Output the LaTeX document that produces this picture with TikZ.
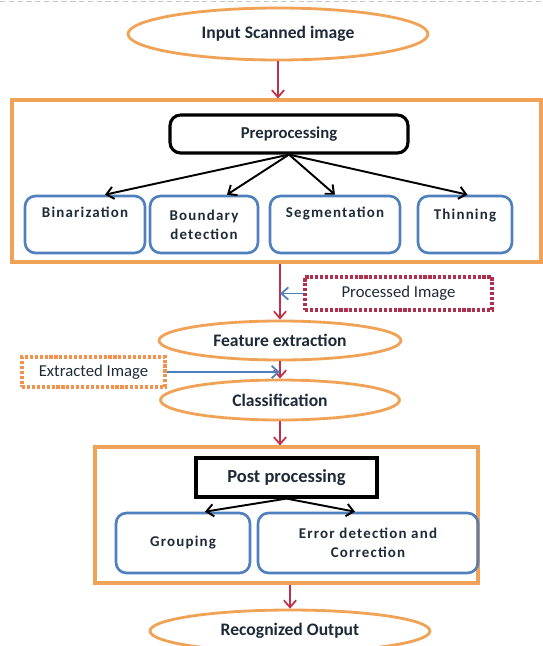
\documentclass[tikz,border=0pt]{standalone}
\usepackage{fontspec}
\setmainfont{Carlito}
\usetikzlibrary{shapes.geometric, arrows.meta}

\definecolor{boxorange}{HTML}{F0A256}
\definecolor{flowred}{HTML}{C0304A}
\definecolor{boxblue}{HTML}{4F7FBD}
\definecolor{notered}{HTML}{B0304E}
\definecolor{inkdark}{HTML}{1F2A38}

\begin{document}
\begin{tikzpicture}[x=0.02cm, y=-0.02cm,
    every node/.style={font=\bfseries\fontsize{10}{12}\selectfont, text=inkdark},
    stage/.style={ellipse, draw=boxorange, line width=1.6pt, fill=white, inner sep=0pt},
    frame/.style={draw=boxorange, line width=1.8pt, inner sep=0pt},
    headbox/.style={draw=black, line width=1.8pt, inner sep=0pt},
    subbox/.style={draw=boxblue, line width=1.5pt, rounded corners=6pt, align=center,
        inner sep=0pt, font=\bfseries\fontsize{8.5}{11}\selectfont\addfontfeature{LetterSpace=8}},
    note/.style={densely dotted, line width=1.8pt, inner sep=0pt,
        font=\fontsize{9.5}{11}\selectfont},
    flow/.style={draw=flowred, line width=1pt, -{Straight Barb[length=4pt,width=7pt]}},
    feed/.style={draw=boxblue, line width=1pt, -{Straight Barb[length=4pt,width=7pt]}},
    split/.style={draw=black, line width=1.1pt, -{Straight Barb[length=4pt,width=7pt]}}]

    \useasboundingbox (0,0) rectangle (543,646);
    \clip (0,0) rectangle (543,646);
    \draw[gray!45, densely dashed] (0,1) -- (543,1);

    % main stages
    \node[stage, minimum width=6cm, minimum height=1.04cm] (input) at (278,34) {Input Scanned image};
    \node[frame, minimum width=10.58cm, minimum height=3.24cm] (preframe) at (276.5,181) {};
    \node[headbox, rounded corners=6pt, minimum width=4.76cm, minimum height=0.76cm] (pre) at (289,134)
        {\fontsize{9.5}{11}\selectfont Preprocessing};

    \node[subbox, minimum width=2.4cm, minimum height=1.14cm, text height=1.6ex, text depth=0.56cm] (bin) at (85,224.5) {Binarization};
    \node[subbox, minimum width=2.16cm, minimum height=1.14cm] (bound) at (204,224.5) {Boundary\\detection};
    \node[subbox, minimum width=2.6cm, minimum height=1.14cm, text height=1.6ex, text depth=0.56cm] (seg) at (335,224.5) {Segmentation};
    \node[subbox, minimum width=1.88cm, minimum height=1.14cm, text height=1.6ex, text depth=0.48cm] (thin) at (465,224.5) {Thinning};

    \draw[split] (pre.south) -- ([xshift=0.4cm]bin.north);
    \draw[split] (pre.south) -- ([xshift=0.46cm]bound.north);
    \draw[split] (pre.south) -- (seg.north);
    \draw[split] (pre.south) -- ([xshift=0.05cm]thin.north);

    \node[stage, minimum width=4.84cm, minimum height=0.78cm] (feat) at (280,340.5) {Feature extraction};
    \node[stage, minimum width=4.78cm, minimum height=0.8cm] (cls) at (280,400) {Classification};

    \node[note, draw=notered, minimum width=3.74cm, minimum height=0.66cm] (procnote) at (398.5,293.5) {Processed Image};
    \node[note, draw=boxorange!90!red, minimum width=2.86cm, minimum height=0.6cm] (extnote) at (93.5,372) {Extracted Image};

    \node[frame, minimum width=7.66cm, minimum height=2.72cm] (postframe) at (286.5,515) {};
    \node[headbox, minimum width=3.62cm, minimum height=0.78cm] (post) at (286.5,477.5) {\fontsize{10.5}{12}\selectfont Post processing};
    \node[subbox, minimum width=2.68cm, minimum height=1.2cm] (group) at (183,543) {Grouping};
    \node[subbox, minimum width=4.4cm, minimum height=1.2cm] (errcorr) at (368,543) {Error detection and\\Correction};

    \draw[split] (post.south) -- ([xshift=0.44cm]group.north);
    \draw[split] (post.south) -- ([xshift=-0.26cm]errcorr.north);

    \node[stage, minimum width=5.6cm, minimum height=0.84cm] (output) at (290,631) {Recognized Output};

    % flow between stages
    \draw[flow] (input.south) -- (input.south |- preframe.north);
    \draw[flow] (preframe.south -| feat.north) -- (feat.north);
    \draw[flow] (feat.south) -- (cls.north);
    \draw[flow] (cls.south) -- (cls.south |- postframe.north);
    \draw[flow] (postframe.south -| output.north) -- (output.north);

    \draw[feed] (procnote.west) -- (procnote.west -| feat.north);
    \draw[feed] (extnote.east) -- (extnote.east -| feat.south);
\end{tikzpicture}
\end{document}
